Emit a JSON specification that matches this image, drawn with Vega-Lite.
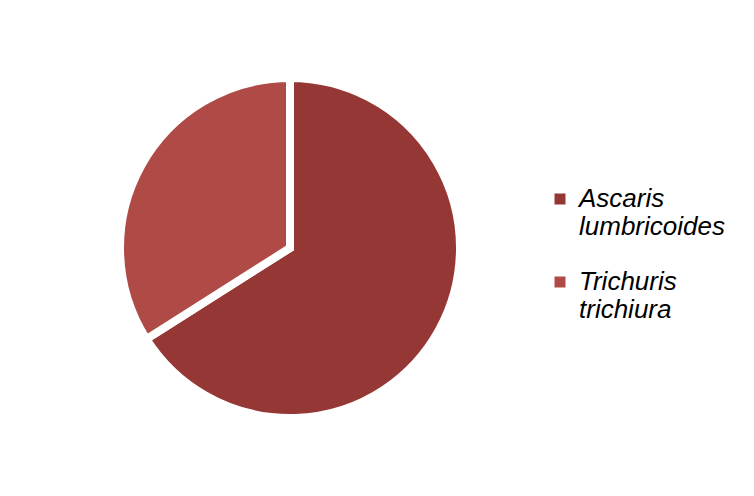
{
  "$schema": "https://vega.github.io/schema/vega-lite/v6.json",
  "width": 560,
  "height": 476,
  "padding": {"left": 10, "top": 10, "right": 0, "bottom": 10},
  "autosize": {"type": "pad"},
  "background": "white",
  "view": {"stroke": null},
  "data": {
    "values": [
      {"species": "Ascaris lumbricoides", "value": 66},
      {"species": "Trichuris trichiura", "value": 34}
    ]
  },
  "mark": {"type": "arc", "outerRadius": 170, "stroke": "white", "strokeWidth": 8},
  "encoding": {
    "theta": {"field": "value", "type": "quantitative", "stack": true},
    "order": {"field": "value", "type": "quantitative", "sort": "descending"},
    "color": {
      "field": "species",
      "type": "nominal",
      "scale": {"domain": ["Ascaris lumbricoides", "Trichuris trichiura"], "range": ["#953735", "#b04a47"]},
      "legend": {
        "title": null,
        "orient": "none",
        "legendX": 537,
        "legendY": 176,
        "symbolType": "square",
        "symbolSize": 121,
        "symbolStrokeWidth": 0,
        "labelFont": "Liberation Sans",
        "labelFontStyle": "italic",
        "labelFontSize": 26,
        "labelColor": "black",
        "labelLimit": 300,
        "labelOffset": 6,
        "labelExpr": "split(datum.label, ' ')",
        "rowPadding": 29
      }
    }
  }
}
